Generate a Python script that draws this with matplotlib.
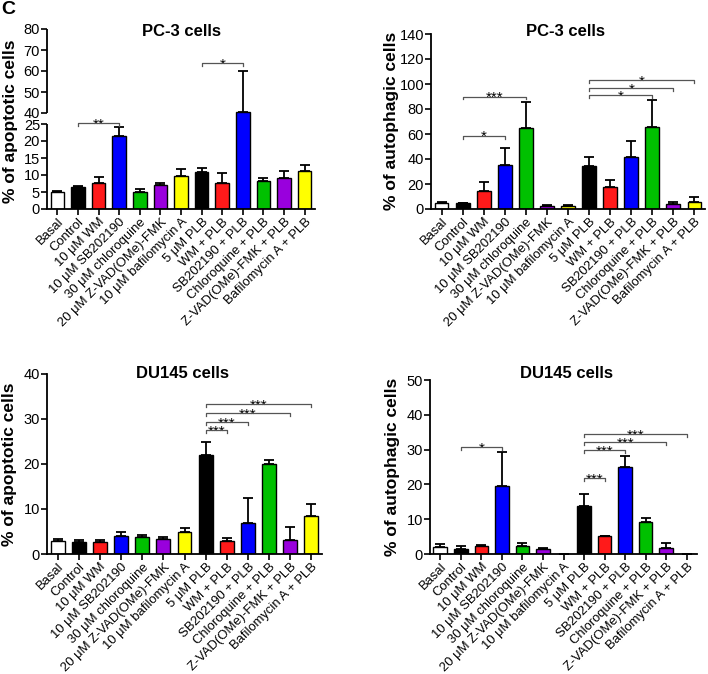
import matplotlib
matplotlib.use("Agg")
import matplotlib.pyplot as plt
import numpy as np

plt.rcParams['font.family'] = ['Liberation Sans', 'DejaVu Sans']

categories = ["Basal", "Control", "10 μM WM", "10 μM SB202190", "30 μM chloroquine",
              "20 μM Z-VAD(OMe)-FMK", "10 μM bafilomycin A", "5 μM PLB", "WM + PLB",
              "SB202190 + PLB", "Chloroquine + PLB", "Z-VAD(OMe)-FMK + PLB",
              "Bafilomycin A + PLB"]
bar_colors = ["#ffffff", "#000000", "#ff1a1a", "#0000ff", "#00c000", "#9900dd", "#ffff00",
              "#000000", "#ff1a1a", "#0000ff", "#00c000", "#9900dd", "#ffff00"]

pc3_apop = [4.9, 6.4, 7.7, 21.6, 5.0, 7.0, 9.6, 10.9, 7.6, 40.5, 8.1, 9.1, 11.1]
pc3_apop_err = [0.3, 0.5, 1.7, 2.4, 0.9, 0.6, 2.2, 1.2, 3.0, 19.4, 1.1, 2.1, 1.9]
pc3_auto = [4.8, 4.5, 14.5, 35.5, 64.7, 2.7, 2.1, 34.7, 17.9, 42.0, 65.5, 4.0, 5.6]
pc3_auto_err = [0.8, 0.7, 7.0, 13.4, 21.0, 0.4, 1.3, 7.0, 5.3, 12.6, 21.6, 1.9, 4.3]
du_apop = [2.9, 2.7, 2.7, 4.1, 3.7, 3.3, 5.0, 21.9, 3.0, 6.8, 19.9, 3.2, 8.4]
du_apop_err = [0.4, 0.4, 0.4, 0.8, 0.6, 0.4, 0.7, 3.0, 0.6, 5.6, 1.1, 2.7, 2.8]
du_auto = [2.0, 1.5, 2.3, 19.5, 2.2, 1.3, 0.0, 13.9, 5.1, 25.0, 9.3, 1.7, 0.1]
du_auto_err = [1.0, 0.8, 0.4, 9.7, 1.0, 0.3, 0.0, 3.4, 0.2, 3.1, 1.0, 1.6, 0.0]

# significance brackets: (start index, end index, y, label)
pc3_apop_sig = [(1, 3, 26.0, "**"), (7, 9, 63.8, "*")]
pc3_auto_sig = [(1, 3, 58.7, "*"), (1, 4, 90.0, "***"),
                (7, 10, 91.3, "*"), (7, 11, 97.0, "*"), (7, 12, 103.4, "*")]
du_apop_sig = [(7, 8, 27.6, "***"), (7, 9, 29.3, "***"), (7, 11, 31.3, "***"), (7, 12, 33.3, "***")]
du_auto_sig = [(1, 3, 30.7, "*"), (7, 8, 21.7, "***"), (7, 9, 29.9, "***"),
               (7, 11, 32.1, "***"), (7, 12, 34.4, "***")]

# broken y-axis of the first panel: lower segment 0-25, upper segment 40-80
break_low, break_high = 25, 40
pc3_apop_ticks = [0, 5, 10, 15, 20, 25, 40, 50, 60, 70, 80]

W, H = 708, 674
fig = plt.figure(figsize=(W / 100, H / 100), dpi=100)

def rect(x0, y_top, x1, y_bot):
    return [x0 / W, 1 - y_bot / H, (x1 - x0) / W, (y_bot - y_top) / H]

x = np.arange(len(categories))

def draw_bars(ax, vals, errs):
    ax.bar(x, vals, width=0.66, color=bar_colors, edgecolor="black", linewidth=1.0, zorder=2)
    ax.errorbar(x, vals, yerr=[np.zeros(len(vals)), errs], fmt="none", ecolor="black",
                elinewidth=1.3, capsize=3.5, capthick=1.3, zorder=3)
    ax.set_xlim(-0.5, len(categories) - 0.5)
    for s in ["top", "right"]:
        ax.spines[s].set_visible(False)
    for s in ["left", "bottom"]:
        ax.spines[s].set_linewidth(1.3)
    ax.tick_params(axis="both", direction="out", width=1.2, length=4, labelsize=10.5, pad=1)
    ax.set_xticks(x)
    ax.set_xticklabels(categories, rotation=45, ha="right", rotation_mode="anchor", fontsize=9.4)

def brackets(ax, sig, tick_px=3.0, fs=11):
    inv = ax.transData.inverted()
    for i0, i1, y, lab in sig:
        dx, dy = ax.transData.transform((i0, y))
        y_t = inv.transform((dx, dy - tick_px))[1]
        ax.plot([i0, i0, i1, i1], [y_t, y, y, y_t], color="#555555", lw=0.9,
                clip_on=False, zorder=4)
        ax.annotate(lab, ((i0 + i1) / 2, y), xytext=(0, -4.0), textcoords="offset points",
                    ha="center", va="baseline", fontsize=fs, annotation_clip=False)

# Panel 1 (single axes with piecewise y scale: 85 px for 0-25, 11 px gap, 84 px for 40-80)
xp = [-1000.0, 0.0, break_low, break_high, 80.0, 1000.0]
fp = [-3400.0, 0.0, 85.0, 96.0, 180.0, 180.0 + 920 * 2.1]
fwd = lambda v: np.interp(v, xp, fp)
bwd = lambda v: np.interp(v, fp, xp)
ax1 = fig.add_axes(rect(47, 29, 315, 209))
ax1.set_yscale("function", functions=(fwd, bwd))
draw_bars(ax1, pc3_apop, pc3_apop_err)
ax1.set_ylim(0, 80)
ax1.set_yticks(pc3_apop_ticks)
ax1.set_yticklabels([str(t) for t in pc3_apop_ticks])
ax1.tick_params(axis="y", which="minor", left=False)
ax1.spines["left"].set_visible(False)
ax1.plot([-0.5, -0.5], [0, break_low], color="black", lw=1.3, clip_on=False, zorder=5,
         solid_capstyle="butt")
ax1.plot([-0.5, -0.5], [break_high, 80], color="black", lw=1.3, clip_on=False, zorder=5,
         solid_capstyle="butt")
brackets(ax1, pc3_apop_sig)

# Panel 2
ax2 = fig.add_axes(rect(431, 34, 705, 209))
draw_bars(ax2, pc3_auto, pc3_auto_err)
ax2.set_ylim(0, 140)
ax2.set_yticks(range(0, 141, 20))
brackets(ax2, pc3_auto_sig)

# Panel 3
ax3 = fig.add_axes(rect(47, 374, 322, 554))
draw_bars(ax3, du_apop, du_apop_err)
ax3.set_ylim(0, 40)
ax3.set_yticks([0, 10, 20, 30, 40])
brackets(ax3, du_apop_sig)

# Panel 4
ax4 = fig.add_axes(rect(430, 380, 697, 554))
draw_bars(ax4, du_auto, du_auto_err)
ax4.set_ylim(0, 50)
ax4.set_yticks([0, 10, 20, 30, 40, 50])
brackets(ax4, du_auto_sig)

# Titles and labels
def ftext(px, py, s, **kw):
    fig.text(px / W, 1 - py / H, s, **kw)

ftext(182, 32, "PC-3 cells", ha="center", va="center", fontsize=12, fontweight="bold")
ftext(566, 32, "PC-3 cells", ha="center", va="center", fontsize=12, fontweight="bold")
ftext(182, 374, "DU145 cells", ha="center", va="center", fontsize=12, fontweight="bold")
ftext(566, 374, "DU145 cells", ha="center", va="center", fontsize=12, fontweight="bold")

ftext(11, 121, "% of apoptotic cells", rotation=90, ha="center", va="center",
      fontsize=12.5, fontweight="bold")
ftext(391, 121, "% of autophagic cells", rotation=90, ha="center", va="center",
      fontsize=12.5, fontweight="bold")
ftext(10, 464, "% of apoptotic cells", rotation=90, ha="center", va="center",
      fontsize=12.5, fontweight="bold")
ftext(392, 467, "% of autophagic cells", rotation=90, ha="center", va="center",
      fontsize=12.5, fontweight="bold")

ftext(1, 9, "C", ha="left", va="center", fontsize=14, fontweight="bold")

fig.savefig("out.png", dpi=100)
